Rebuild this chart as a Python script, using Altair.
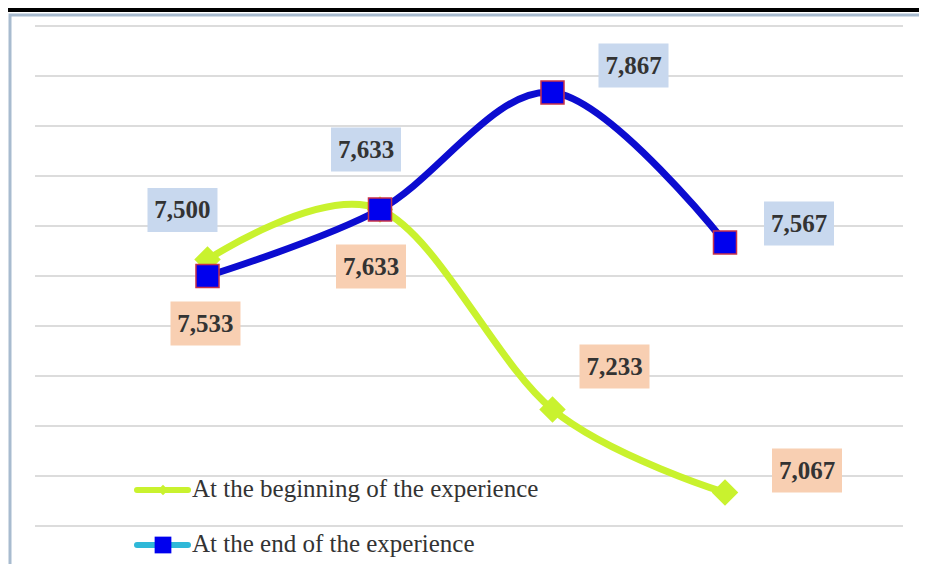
import altair as alt
import pandas as pd

# ---- data ----
STEPS = [1, 2, 3, 4]
BEGIN_VALUES = [7.533, 7.633, 7.233, 7.067]
END_VALUES = [7.500, 7.633, 7.867, 7.567]
SERIES = ["At the beginning of the experience", "At the end of the experience"]
GRID_VALUES = [7.0, 7.1, 7.2, 7.3, 7.4, 7.5, 7.6, 7.7, 7.8, 7.9, 8.0]

# label offsets (layout, pixels) for each point label: (dx, dy)
BEGIN_LABEL_OFFSETS = [(-2, 64), (-9, 57), (62, -43), (82, -22)]
END_LABEL_OFFSETS = [(-25, -66), (-14, -60), (81, -27), (74, -19)]

W, H = 911, 556
X_DOMAIN = [-0.1565, 5.1246]
Y_DOMAIN = [6.924, 8.036]

GREEN = "#c9f22e"
BLUE = "#0c0cd0"
BLUE_FILL = "#0000ee"
CYAN = "#2fb8d8"
ORANGE_BOX = "#f8cfb2"
BLUE_BOX = "#c8d8ee"
FONT = "Liberation Serif"


def fmt(v):
    return f"{v:.3f}".replace(".", ",")


rows = []
for s, vals in zip(SERIES, [BEGIN_VALUES, END_VALUES]):
    for i, v in zip(STEPS, vals):
        rows.append({"series": s, "step": i, "value": v, "label": fmt(v),
                     "key": f"{s}|{i}"})
df = pd.DataFrame(rows)
grid_df = pd.DataFrame({"value": GRID_VALUES})

xs = alt.Scale(domain=X_DOMAIN, nice=False, zero=False)
ys = alt.Scale(domain=Y_DOMAIN, nice=False, zero=False)
X = alt.X("step:Q", scale=xs, axis=None)
Y = alt.Y("value:Q", scale=ys, axis=None)

one = alt.Data(values=[{}])

layers = []

# frame around the chart
layers.append(alt.Chart(one).mark_rect(fill=None, stroke="#a8bbcf", strokeWidth=3).encode(
    x=alt.value(2), x2=alt.value(930), y=alt.value(7), y2=alt.value(600)))
# black strip at the top
layers.append(alt.Chart(one).mark_rect(fill="black").encode(
    x=alt.value(0), x2=alt.value(W), y=alt.value(0), y2=alt.value(4)))

# gridlines
layers.append(alt.Chart(grid_df).mark_rule(color="#dcdcdc", strokeWidth=2).encode(
    x=alt.value(27), x2=alt.value(895), y=alt.Y("value:Q", scale=ys, axis=None)))

begin = alt.Chart(df).transform_filter(alt.datum.series == SERIES[0])
end = alt.Chart(df).transform_filter(alt.datum.series == SERIES[1])

layers.append(begin.mark_line(color=GREEN, strokeWidth=7, interpolate="cardinal",
                              strokeCap="round").encode(x=X, y=Y, order="step:Q"))
layers.append(begin.mark_point(shape="diamond", size=700, filled=True, fill=GREEN,
                               opacity=1, strokeWidth=0).encode(x=X, y=Y))
layers.append(end.mark_line(color=BLUE, strokeWidth=7, interpolate="cardinal",
                            strokeCap="round").encode(x=X, y=Y, order="step:Q"))
layers.append(end.mark_point(shape="square", size=530, filled=True, fill=BLUE_FILL,
                             stroke="#c8324a", strokeWidth=1.5, opacity=1).encode(x=X, y=Y))

# data labels with coloured boxes
BOX = "M-1,-0.63L1,-0.63L1,0.63L-1,0.63Z"
for s, offsets, box_col in [(SERIES[0], BEGIN_LABEL_OFFSETS, ORANGE_BOX),
                            (SERIES[1], END_LABEL_OFFSETS, BLUE_BOX)]:
    for i, (dx, dy) in zip(STEPS, offsets):
        base = alt.Chart(df).transform_filter(alt.datum.key == f"{s}|{i}")
        layers.append(base.mark_point(shape=BOX, size=4900, filled=True, fill=box_col,
                                      opacity=1, strokeWidth=0, xOffset=dx,
                                      yOffset=dy).encode(x=X, y=Y))
        layers.append(base.mark_text(font=FONT, fontSize=25, fontWeight="bold",
                                     color="#333333", dx=dx, dy=dy, baseline="middle",
                                     align="center").encode(x=X, y=Y, text="label:N"))

# legend
leg = [(SERIES[0], 482, 489, GREEN), (SERIES[1], 537, 544, CYAN)]
legend_df = pd.DataFrame({"name": SERIES})
for k, (name, ly, tb, col) in enumerate(leg):
    layers.append(alt.Chart(one).mark_rule(color=col, strokeWidth=6, strokeCap="round").encode(
        x=alt.value(129), x2=alt.value(180), y=alt.value(ly)))
    if k == 0:
        layers.append(alt.Chart(one).mark_point(shape="diamond", size=110, filled=True,
                                                fill=GREEN, opacity=1).encode(
            x=alt.value(155), y=alt.value(ly)))
    else:
        layers.append(alt.Chart(one).mark_point(shape="square", size=280, filled=True,
                                                fill=BLUE_FILL, opacity=1).encode(
            x=alt.value(155), y=alt.value(ly)))
    layers.append(alt.Chart(legend_df).transform_filter(alt.datum.name == name).mark_text(
        font=FONT, fontSize=25, color="#333333", align="left", baseline="alphabetic").encode(
        x=alt.value(184), y=alt.value(tb), text="name:N"))

chart = alt.layer(*layers).properties(
    width=W, height=H, padding=0, autosize="none", background="white"
).configure_view(stroke=None)

chart.save("out.html", embed_options={"renderer": "svg", "actions": False})
